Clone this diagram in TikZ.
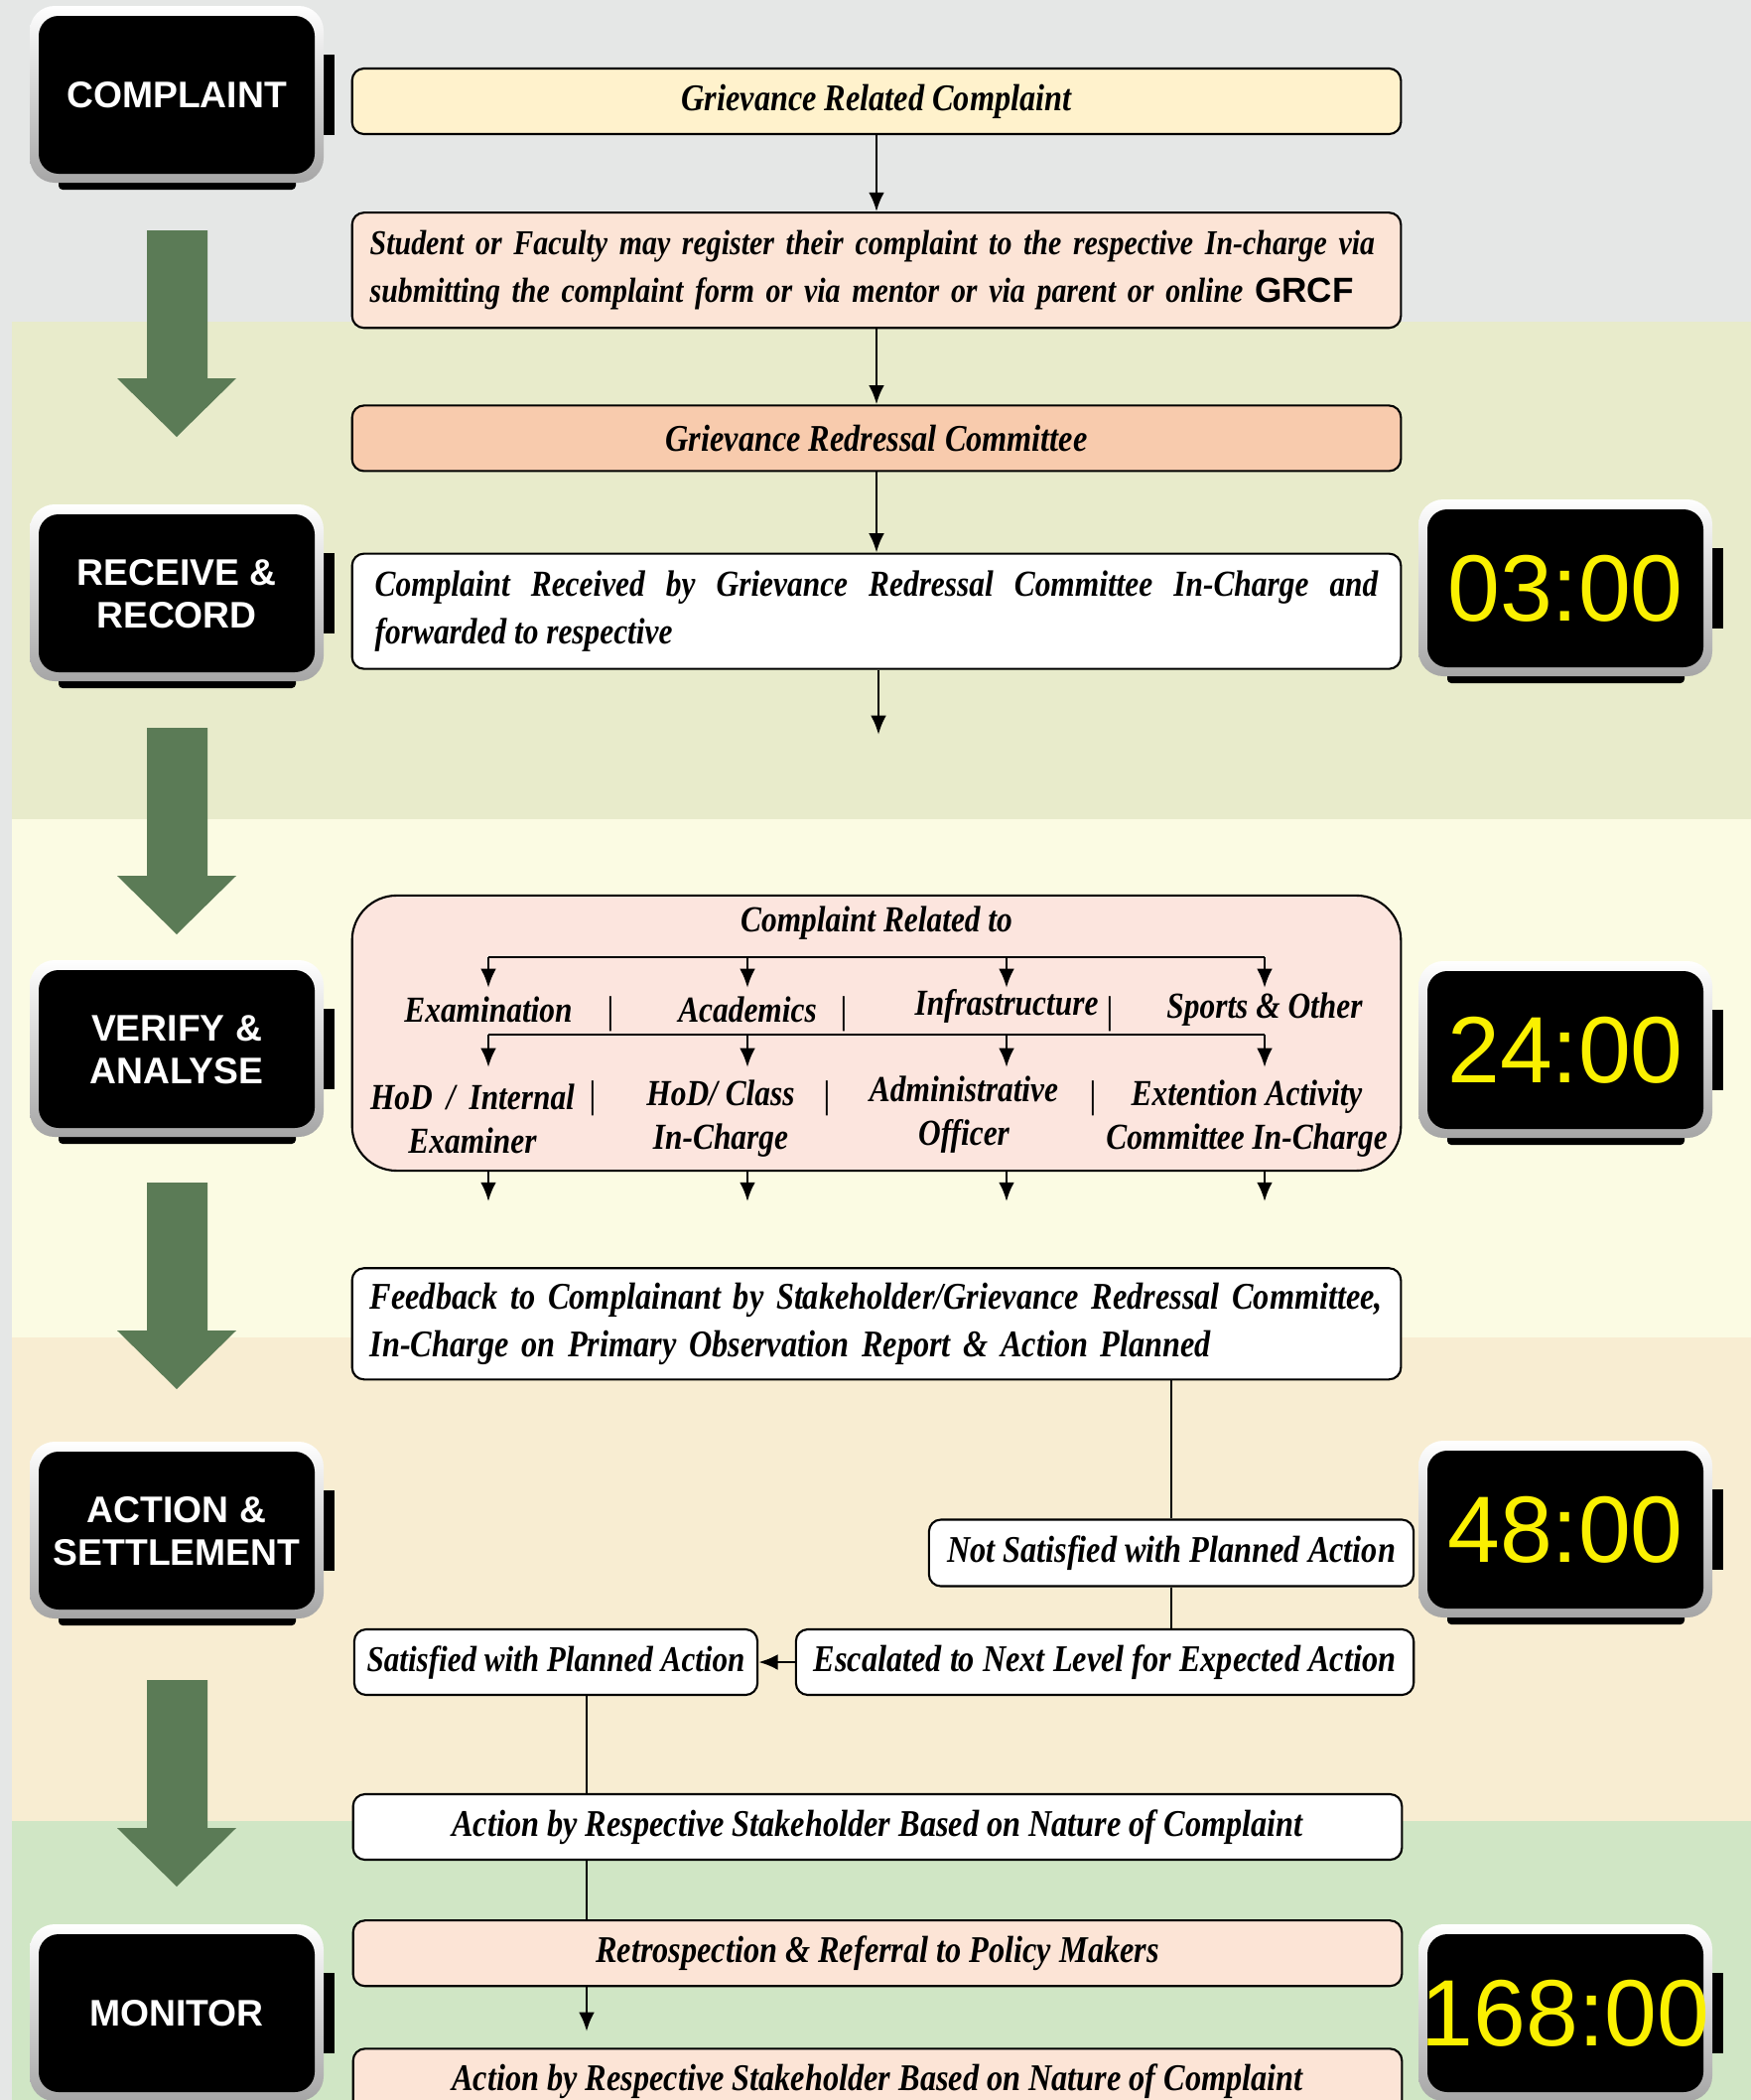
\documentclass[tikz,border=0pt]{standalone}
\usepackage{fontspec}
\setmainfont{Liberation Serif}
\setsansfont{Liberation Sans}
\newfontfamily\hand{Liberation Serif}[FakeStretch=0.85]
\usetikzlibrary{arrows.meta,positioning}

\definecolor{bggray}{RGB}{229,231,230}
\definecolor{bandA}{RGB}{232,235,203}
\definecolor{bandB}{RGB}{251,251,227}
\definecolor{bandC}{RGB}{248,237,210}
\definecolor{bandD}{RGB}{208,230,197}
\definecolor{arrowgreen}{RGB}{91,123,86}
\definecolor{cream}{RGB}{255,242,204}
\definecolor{peach}{RGB}{252,228,214}
\definecolor{salmon}{RGB}{248,203,173}
\definecolor{blush}{RGB}{252,229,222}
\definecolor{digit}{RGB}{250,240,0}

% watch shaped label: [style]{name}{x}{y}{text}, x/y = top left of frame
\newcommand{\watch}[5][]{%
  \fill[black, rounded corners=0.04cm] ({#3+29},{#4+170}) rectangle ({#3+268},{#4+185});
  \fill[black] ({#3+296},{#4+49}) rectangle ({#3+307},{#4+130});
  \shade[top color=white, bottom color=gray!70, rounded corners=0.25cm] (#3,#4) rectangle ({#3+296},{#4+178});
  \fill[black, rounded corners=0.2cm] ({#3+9},{#4+10}) rectangle ({#3+287},{#4+169});
  \node[#1] (#2) at ({#3+148},{#4+90}) {#5};
}

\begin{document}
\begin{tikzpicture}[x=0.01cm,y=-0.01cm,>={Latex[length=5.5pt,width=4.5pt]}]
        \tikzset{box/.style={draw, rounded corners=0.12cm, line width=0.6pt, minimum width=10.56cm, minimum height=0.66cm, align=center,
                font=\hand\bfseries\itshape\fontsize{10.8}{13.5}\selectfont},
        item/.style={inner sep=1pt, align=center, font=\hand\bfseries\itshape\fontsize{10.5}{12.5}\selectfont},
        bar/.style={inner sep=0pt, font=\fontsize{11}{11}\selectfont},
        stage/.style={inner sep=0pt, align=center, text=white, font=\sffamily\bfseries\fontsize{10.6}{12.2}\selectfont},
        clock/.style={inner sep=0pt, text=digit, font=\sffamily\fontsize{27}{30}\selectfont},
        conn/.style={line width=0.8pt}
        }
        \useasboundingbox (0,0) rectangle (1764,2115);
        \clip (0,0) rectangle (1764,2115);

%% background bands
        \fill[bggray] (0,0) rectangle (1764,2115);
        \fill[bandA] (12,324) rectangle (1764,825);
        \fill[bandB] (12,825) rectangle (1764,1347);
        \fill[bandC] (12,1347) rectangle (1764,1834);
        \fill[bandD] (12,1834) rectangle (1764,2115);

%% big green arrows
        \foreach \y in {232,733,1191,1692}
            \fill[arrowgreen] (148,\y) -- (209,\y) -- (209,\y+149) -- (238,\y+149) -- (178,\y+208) -- (118,\y+149) -- (148,\y+149) -- cycle;

%% stages and clocks
        \watch[stage]{complaint}{30}{6}{COMPLAINT}
        \watch[stage]{receive}{30}{508}{RECEIVE \&\\RECORD}
        \watch[stage]{verify}{30}{967}{VERIFY \&\\ANALYSE}
        \watch[stage]{action}{30}{1452}{ACTION \&\\SETTLEMENT}
        \watch[stage]{monitor}{30}{1938}{MONITOR}
        \watch[clock]{t3}{1429}{503}{03:00}
        \watch[clock]{t24}{1429}{968}{24:00}
        \watch[clock]{t48}{1429}{1451}{48:00}
        \watch[clock]{t168}{1429}{1938}{168:00}

%% main column
        \node [box, fill=cream] (b1) at (883,102) {Grievance Related Complaint};
        \node [box, fill=peach, minimum height=1.16cm, text width=10.2cm, align=left, below=0.77cm of b1,
               font=\hand\bfseries\itshape\fontsize{10}{13.5}\selectfont] (b2)
              {Student or Faculty may register their complaint to the respective In-charge via submitting the complaint form or via mentor or via parent or online {\sffamily\bfseries\upshape GRCF}};
        \node [box, fill=salmon, below=0.76cm of b2] (b3) {Grievance Redressal Committee};
        \node [box, fill=white, minimum height=1.16cm, text width=10.1cm, align=justify, below=0.81cm of b3,
               font=\hand\bfseries\itshape\fontsize{10.5}{13.5}\selectfont] (b4)
              {Complaint Received by Grievance Redressal Committee In-Charge and\linebreak forwarded to respective\par};
        \node [box, fill=blush, rounded corners=0.45cm, minimum height=2.77cm, below=2.26cm of b4] (b5) {};
        \node [box, fill=white, minimum height=1.12cm, text width=10.2cm, align=left, below=0.96cm of b5] (b6)
              {Feedback to Complainant by Stakeholder/Grievance Redressal Committee,\\In-Charge on Primary Observation Report \& Action Planned};
        \node [box, fill=white, minimum width=4.88cm, minimum height=0.67cm] (b7) at (1180,1564) {Not Satisfied with Planned Action};
        \node [box, fill=white, minimum width=6.22cm] (b8) at (1113,1674) {Escalated to Next Level for Expected Action};
        \node [box, fill=white, minimum width=4.06cm, inner xsep=2pt,
               font=\hand\bfseries\itshape\fontsize{10.4}{13.5}\selectfont] (b9) at (560,1674) {Satisfied with Planned Action};
        \node [box, fill=white] (b10) at (884,1840) {Action by Respective Stakeholder Based on Nature of Complaint};
        \node [box, fill=peach, below=0.59cm of b10] (b11) {Retrospection \& Referral to Policy Makers};
        \node [box, fill=peach, below=0.61cm of b11] (b12) {Action by Respective Stakeholder Based on Nature of Complaint};

%% inside the complaint box
        \node [item] (rel) at (883,930) {Complaint Related to};
        \node [item] (exam) at (492,1017) {Examination};
        \node [item] (acad) at (753,1017) {Academics};
        \node [item] (infra) at (1014,1013) {Infrastructure};
        \node [item] (sport) at (1274,1017) {Sports \& Other};
        \node [item] (hodi) at (476,1127) {HoD \,/\, Internal\\Examiner};
        \node [item] (hodc) at (726,1127) {HoD/ Class\\In-Charge};
        \node [item] (admin) at (971,1123) {Administrative\\Officer};
        \node [item] (ext) at (1256,1127) {Extention Activity\\Committee In-Charge};
        \node [bar] (s1) at (615,1021) {|};
        \node [bar] (s2) at (850,1021) {|};
        \node [bar] (s3) at (1118,1021) {|};
        \node [bar] (s4) at (597,1106) {|};
        \node [bar] (s5) at (833,1106) {|};
        \node [bar] (s6) at (1101,1106) {|};
        \coordinate (row1) at (883,964);
        \coordinate (row2) at (883,1042);
        \coordinate (d4) at (885,740);
        \coordinate (d11) at (591,2046);

%% paths
        \draw[conn] (row1 -| exam) -- (row1 -| sport);
        \draw[conn] (row2 -| exam) -- (row2 -| sport);
        \foreach \n in {exam,acad,infra,sport} {
            \draw[conn,->] (row1 -| \n) -- ++(0,31);
            \draw[conn,->] (row2 -| \n) -- ++(0,33);
            \draw[conn,->] (b5.south -| \n) -- ++(0,30);
        }
        \path[draw,conn] (b1) edge[->] (b2)
                    (b2) edge[->] (b3)
                    (b3) edge[->] (b4)
                    (b4.south -| d4) edge[->] (d4)
                    (b8.west) edge[->] (b9.east)
                    (b11.south -| d11) edge[->] (d11);
        \path[draw,conn] (b6.south -| b7.north) -- (b7.north)
                    (b7.south) -- (b7.south |- b8.north)
                    (b9.south -| d11) -- (b10.north -| d11)
                    (b10.south -| d11) -- (b11.north -| d11);
\end{tikzpicture}
\end{document}
